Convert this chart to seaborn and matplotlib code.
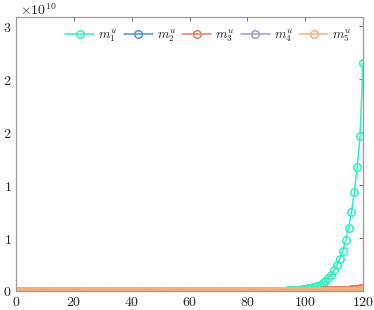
import matplotlib
matplotlib.use("Agg")
import matplotlib.pyplot as plt
import seaborn as sns
import pandas as pd

# ---------------- data (values in units of 1e10) ----------------
x = list(range(0, 121))

m1_tail_x = [86, 87, 88, 89, 90, 91, 92, 93, 94, 95, 96, 97, 98, 99, 100, 101, 102, 103, 104, 105,
             106, 107, 108, 109, 110, 111, 112, 113, 114, 115, 116, 117, 118, 119, 120]
m1_tail_v = [0.001, 0.0012, 0.0015, 0.0018, 0.002, 0.0025, 0.003, 0.004, 0.005, 0.0065,
             0.008, 0.010, 0.013, 0.016,
             0.020, 0.025, 0.031, 0.038, 0.048, 0.060, 0.075, 0.094, 0.123, 0.154,
             0.198, 0.248, 0.305, 0.380, 0.478, 0.591, 0.745, 0.931, 1.170, 1.465, 2.148]

m3_tail_x = [100, 102, 104, 106, 108, 110, 112, 114, 116, 117, 118, 119, 120]
m3_tail_v = [0.002, 0.003, 0.004, 0.005, 0.006, 0.008, 0.010, 0.012, 0.015, 0.017,
             0.020, 0.024, 0.030]

series_names = ["$m_1^u$", "$m_2^u$", "$m_3^u$", "$m_4^u$", "$m_5^u$"]
colors = ["#2df2c2", "#4a95d6", "#ec7a68", "#a596e4", "#f6b17f"]

xticks = [0, 20, 40, 60, 80, 100, 120]
xtick_labels = ["$0$", "$20$", "$40$", "$60$", "$80$", "$100$", "$120$"]
yticks = [0, 0.5, 1.0, 1.5, 2.0, 2.5]
ytick_labels = ["$0$", "$1$", "$1$", "$2$", "$2$", "$3$"]


def full_series(tail_x, tail_v):
    d = dict(zip(tail_x, tail_v))
    vals = []
    last = 0.0
    for xi in x:
        if xi in d:
            last = d[xi]
            vals.append(last)
        elif xi < tail_x[0]:
            vals.append(0.0)
        else:
            vals.append(last)
    return vals


m1 = full_series(m1_tail_x, m1_tail_v)
m2 = [0.0] * len(x)
m3 = full_series(m3_tail_x, m3_tail_v)
m4 = [0.0] * len(x)
m5 = [0.0] * len(x)

rows = []
for name, vals in zip(series_names, [m1, m2, m3, m4, m5]):
    for xi, v in zip(x, vals):
        rows.append({"x": xi, "y": v, "series": name})
df = pd.DataFrame(rows)

# ---------------- plot ----------------
sns.set_style("white")
plt.rcParams["mathtext.fontset"] = "cm"
plt.rcParams["font.family"] = ["DejaVu Serif"]

fig = plt.figure(figsize=(3.74, 3.10), dpi=100)
ax = fig.add_axes([16 / 374, 1 - 291 / 310, (363 - 16) / 374, (291 - 17) / 310])

sns.lineplot(data=df, x="x", y="y", hue="series", palette=colors,
             hue_order=series_names, sort=False, ax=ax,
             marker="o", markersize=5.4, markerfacecolor="none",
             markeredgewidth=1.1, linewidth=1.1, legend=True)

for ln, c in zip(ax.get_lines(), colors):
    ln.set_markeredgecolor(c)

ax.set_xlim(0, 120)
ax.set_ylim(0, 2.585)
ax.set_xticks(xticks)
ax.set_xticklabels(xtick_labels)
ax.set_yticks(yticks)
ax.set_yticklabels(ytick_labels)
ax.set_xlabel("")
ax.set_ylabel("")

ax.tick_params(axis="both", which="both", direction="in", length=3, width=0.6,
               color="#555555", labelsize=10, labelcolor="#222222",
               top=True, right=True, pad=3)
for s in ax.spines.values():
    s.set_color("#9a9a9a")
    s.set_linewidth(0.9)

leg = ax.legend(ncol=5, frameon=False, loc="upper center",
                bbox_to_anchor=(0.555, 0.995), fontsize=9.5,
                handlelength=2.2, handletextpad=0.3, columnspacing=0.45,
                borderaxespad=0.3)
for h, c in zip(leg.legend_handles, colors):
    h.set_markerfacecolor("none")
    h.set_markeredgecolor(c)

fig.text(20 / 374, 1 - 10 / 310, r"$\times 10^{10}$", fontsize=10,
         color="#222222", va="center", ha="left")

fig.savefig("out.png", dpi=100)
